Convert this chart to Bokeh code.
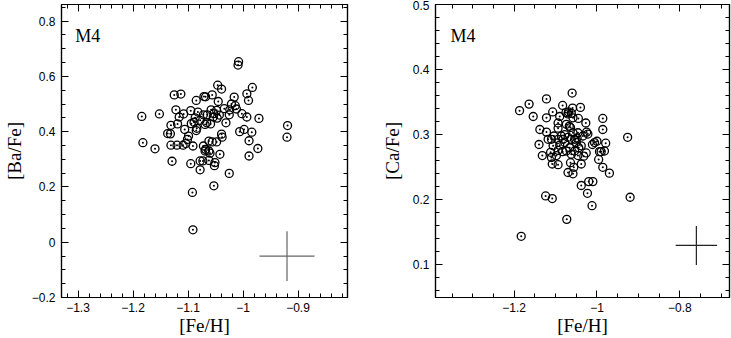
from bokeh.plotting import figure
from bokeh.layouts import row
from bokeh.models import (LinearAxis, SingleIntervalTicker, CustomJSTickFormatter,
                          Label, Range1d)
from bokeh.embed import file_html
from bokeh.resources import INLINE

# ---------------- data ----------------
# Left panel: [Fe/H] vs [Ba/Fe]
ba_feh = [-1.184, -1.182, -1.160, -1.152, -1.125, -1.113, -1.122, -1.116, -1.131, -1.119,
          -1.137, -1.132, -1.131, -1.120, -1.109, -1.129, -1.106, -1.108, -1.101, -1.099,
          -1.104, -1.095, -1.094, -1.085, -1.082, -1.087, -1.089, -1.085, -1.084, -1.091,
          -1.095, -1.078, -1.072, -1.071, -1.068, -1.056, -1.059, -1.066, -1.072, -1.068,
          -1.069, -1.062, -1.062, -1.078, -1.073, -1.078, -1.062, -1.060, -1.058, -1.054,
          -1.053, -1.048, -1.045, -1.046, -1.039, -1.043, -1.051, -1.052, -1.053, -1.056,
          -1.048, -1.042, -1.039, -1.038, -1.034, -1.031, -1.025, -1.025, -1.024, -1.021,
          -1.016, -1.014, -1.012, -1.008, -1.009, -1.006, -1.002, -0.998, -0.993, -0.993,
          -0.990, -0.983, -0.984, -0.989, -0.989, -0.971, -0.973, -0.919, -0.920, -1.092,
          -1.091, -1.065, -1.047, -1.069]
ba_fe = [0.455, 0.360, 0.338, 0.464, 0.533, 0.536, 0.479, 0.453, 0.423, 0.428,
         0.393, 0.392, 0.351, 0.351, 0.351, 0.293, 0.408, 0.464, 0.372, 0.384,
         0.357, 0.476, 0.429, 0.513, 0.471, 0.450, 0.434, 0.404, 0.412, 0.348,
         0.284, 0.441, 0.461, 0.527, 0.526, 0.533, 0.428, 0.432, 0.348, 0.336,
         0.330, 0.366, 0.330, 0.294, 0.294, 0.262, 0.296, 0.322, 0.479, 0.453,
         0.465, 0.477, 0.509, 0.568, 0.554, 0.460, 0.288, 0.277, 0.204, 0.363,
         0.363, 0.318, 0.391, 0.380, 0.483, 0.432, 0.461, 0.249, 0.479, 0.500,
         0.525, 0.494, 0.482, 0.653, 0.641, 0.400, 0.465, 0.408, 0.453, 0.537,
         0.513, 0.560, 0.398, 0.367, 0.312, 0.448, 0.339, 0.422, 0.380, 0.180,
         0.045, 0.461, 0.449, 0.426]

# Right panel: [Fe/H] vs [Ca/Fe]
ca_feh = [-1.187, -1.164, -1.154, -1.122, -1.122, -1.107, -1.138, -1.122, -1.140, -1.132,
          -1.118, -1.110, -1.112, -1.110, -1.108, -1.094, -1.098, -1.094, -1.094, -1.090,
          -1.083, -1.075, -1.070, -1.074, -1.067, -1.064, -1.060, -1.059, -1.058, -1.086,
          -1.082, -1.078, -1.090, -1.094, -1.083, -1.070, -1.062, -1.054, -1.050, -1.066,
          -1.054, -1.064, -1.070, -1.058, -1.056, -1.062, -1.046, -1.040, -1.045, -1.027,
          -1.025, -1.022, -1.034, -1.038, -1.026, -1.032, -1.038, -1.038, -1.020, -1.010,
          -1.023, -1.012, -1.011, -1.006, -1.000, -0.996, -0.994, -0.990, -0.986, -0.986,
          -0.982, -0.979, -0.986, -0.970, -0.926, -0.920, -1.124, -1.108, -1.073, -1.183,
          -1.104, -1.046, -1.074, -1.044, -1.078, -1.058, -1.048, -1.094, -1.106, -1.069,
          -1.062]
ca_fe = [0.337, 0.347, 0.328, 0.355, 0.326, 0.335, 0.308, 0.304, 0.285, 0.268,
         0.293, 0.293, 0.273, 0.265, 0.255, 0.254, 0.268, 0.318, 0.310, 0.328,
         0.345, 0.334, 0.332, 0.316, 0.313, 0.311, 0.364, 0.341, 0.326, 0.298,
         0.293, 0.288, 0.284, 0.276, 0.274, 0.296, 0.293, 0.293, 0.288, 0.280,
         0.275, 0.257, 0.242, 0.240, 0.250, 0.270, 0.268, 0.342, 0.325, 0.318,
         0.304, 0.301, 0.298, 0.283, 0.272, 0.267, 0.255, 0.222, 0.228, 0.228,
         0.210, 0.191, 0.285, 0.288, 0.290, 0.262, 0.274, 0.274, 0.308, 0.325,
         0.275, 0.287, 0.250, 0.241, 0.296, 0.204, 0.206, 0.202, 0.170, 0.144,
         0.298, 0.303, 0.275, 0.280, 0.300, 0.303, 0.295, 0.293, 0.283, 0.335,
         0.333]

# typical error crosses: centre x, centre y, half-width, half-height
ba_err = [-0.92, -0.05, 0.05, 0.09]
ca_err = [-0.76, 0.13, 0.05, 0.03]

# panel label anchor (data coords of its lower-left corner)
ba_label_pos = [-1.305, 0.709]
ca_label_pos = [-1.354, 0.436]

panel_label = "M4"
x_label = "[Fe/H]"
ba_label = "[Ba/Fe]"
ca_label = "[Ca/Fe]"

MINUS = "\u2212"
FMT = ("var v = Math.round(tick*100)/100; var s = v.toString();"
       " return s.replace('-', '" + MINUS + "');")
EMPTY = "return '';"

TICK_FONT = "Liberation Sans"
SERIF = "Liberation Serif"


def style_axis(ax, show_labels, label_standoff=5, title_standoff=1):
    ax.axis_line_color = "black"
    ax.axis_line_width = 1.2
    ax.major_tick_in = 7
    ax.major_tick_out = 0
    ax.minor_tick_in = 4
    ax.minor_tick_out = 0
    ax.major_tick_line_color = "black"
    ax.minor_tick_line_color = "black"
    if show_labels:
        ax.major_label_text_font = TICK_FONT
        ax.major_label_text_font_size = "12px"
        ax.major_label_text_color = "black"
        ax.major_label_standoff = label_standoff
        ax.axis_label_text_font = SERIF
        ax.axis_label_text_font_size = "19px"
        ax.axis_label_text_font_style = "normal"
        ax.axis_label_text_color = "black"
        ax.axis_label_standoff = title_standoff
    else:
        ax.formatter = CustomJSTickFormatter(code=EMPTY)
        ax.major_label_standoff = 0


def make_panel(xs, ys, xr, yr, xint, xminor, yint, yminor, ylab, err, err_color,
               label_pos, width, border_left, border_right, ytitle_standoff):
    p = figure(width=width, height=338, output_backend="svg", toolbar_location=None,
               x_range=Range1d(*xr), y_range=Range1d(*yr),
               min_border_left=border_left, min_border_right=border_right,
               min_border_top=4, min_border_bottom=39,
               x_axis_label=x_label, y_axis_label=ylab)
    p.xgrid.visible = False
    p.ygrid.visible = False
    p.outline_line_color = "black"
    p.outline_line_width = 1.2
    p.background_fill_color = "white"
    p.border_fill_color = "white"

    p.xaxis.ticker = SingleIntervalTicker(interval=xint, num_minor_ticks=xminor)
    p.yaxis.ticker = SingleIntervalTicker(interval=yint, num_minor_ticks=yminor)
    p.xaxis.formatter = CustomJSTickFormatter(code=FMT)
    p.yaxis.formatter = CustomJSTickFormatter(code=FMT)
    style_axis(p.xaxis[0], True, label_standoff=5, title_standoff=0)
    style_axis(p.yaxis[0], True, label_standoff=6, title_standoff=ytitle_standoff)

    top = LinearAxis(ticker=SingleIntervalTicker(interval=xint, num_minor_ticks=xminor))
    right = LinearAxis(ticker=SingleIntervalTicker(interval=yint, num_minor_ticks=yminor))
    style_axis(top, False)
    style_axis(right, False)
    p.add_layout(top, "above")
    p.add_layout(right, "right")

    p.scatter(xs, ys, marker="circle_dot", size=8, line_color="black",
              fill_color=None, line_width=1.3)

    cx, cy, dx, dy = err
    p.segment(x0=[cx - dx, cx], y0=[cy, cy - dy], x1=[cx + dx, cx], y1=[cy, cy + dy],
              line_color=err_color, line_width=1.2)

    p.add_layout(Label(x=label_pos[0], y=label_pos[1], text=panel_label,
                       text_font=SERIF, text_font_size="18px", text_color="black"))
    return p


p1 = make_panel(ba_feh, ba_fe, (-1.33, -0.81), (-0.2, 0.86), 0.1, 5, 0.2, 4,
                ba_label, ba_err, "#666666", ba_label_pos, 365, 54, 18, 4)
p2 = make_panel(ca_feh, ca_fe, (-1.39, -0.68), (0.05, 0.5), 0.2, 4, 0.1, 5,
                ca_label, ca_err, "#222222", ca_label_pos, 366, 70, 2, 7)

layout = row(p1, p2)
open("out.html", "w").write(file_html(layout, INLINE))
